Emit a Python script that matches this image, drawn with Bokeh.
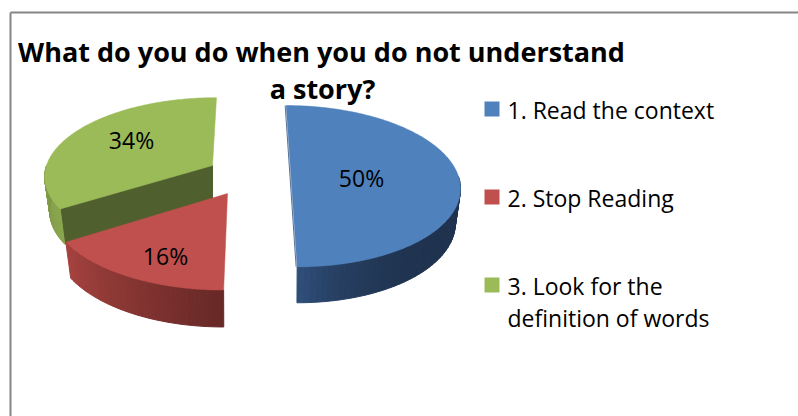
import numpy as np
from bokeh.embed import file_html
from bokeh.models import Range1d
from bokeh.plotting import figure
from bokeh.resources import INLINE
from bokeh.core.properties import value

# ---- data
categories = ["1. Read the context", "2. Stop Reading", "3. Look for the definition of words"]
shares = [50, 16, 34]
title_lines = ["What do you do when you do not understand", "a story?"]
legend_lines = [["1. Read the context"], ["2. Stop Reading"], ["3. Look for the", "definition of words"]]

# ---- colours: rim colour at the rim's clockwise start / end of the visible part
top_colors = ["#4f81bd", "#c0504d", "#9bbb59"]
rim_start = ["#1f324e", "#672826", "#8aa64e"]
rim_end = ["#2e4e78", "#a5423f", "#7d9746"]
rim_power = [5.0, 1.0, 1.0]
wall_color = "#4f5f2d"
frame_color = "#868686"
FONT = "Open Sans"

# ---- layout (page pixels)
W, H = 798, 416
K = 0.12  # perspective strength
geom = [
    dict(cx=290.5, cy=176, rx=167.5, ry=79.5, shear=0.068, depth=34),
    dict(cx=227, cy=193, rx=177, ry=85, shear=-0.04, depth=35),
    dict(cx=212, cy=165, rx=166, ry=76, shear=-0.059, depth=34),
]
label_pos = [(361, 177.5), (165, 255.5), (131, 139.5)]
legend_x, legend_text_x = 484, 507
legend_y = [108.5, 196.5, 284.5]
line_gap = 32
swatch = 15


def project(g, theta, down=0.0):
    X, Z = np.sin(theta), np.cos(theta)
    s = 1.0 / (1.0 + K * Z)
    shrink = 1.0 - 0.03 * (down > 0)
    dx, dy = g["rx"] * X * s * shrink, -g["ry"] * Z * s * shrink
    return g["cx"] + dx + g["shear"] * dy, g["cy"] + dy + down * s


def hex2rgb(h):
    return np.array([int(h[i:i + 2], 16) for i in (1, 3, 5)], float)


def mix(a, b, t):
    c = hex2rgb(a) * (1 - t) + hex2rgb(b) * t
    return "#%02x%02x%02x" % tuple(int(round(v)) for v in c)


p = figure(width=W, height=H, x_range=Range1d(0, W), y_range=Range1d(H, 0),
           output_backend="svg", toolbar_location=None, min_border=0, outline_line_color=None)
p.axis.visible = False
p.grid.visible = False

# frame, open towards the right and bottom of the page
p.segment([10, 10], [12, 12], [W, 10], [12, H], line_color=frame_color, line_width=2)

total = sum(shares)
edges = np.cumsum([0] + shares) / total * 2 * np.pi
spans = [(edges[i], edges[i + 1]) for i in range(len(shares))]

for i in (2, 1, 0):
    g = geom[i]
    a0, a1 = spans[i]
    if i == 2:
        # inner wall of the slice along its first edge
        cx, cy = g["cx"], g["cy"]
        ex, ey = project(g, a0)
        bx, by = project(g, a0, g["depth"])
        p.patch([cx, ex, bx, cx], [cy, ey, by, cy + g["depth"]], fill_color=wall_color, line_color=wall_color)
    # visible outer side: the part of the rim that faces the viewer
    s0, s1 = max(a0, np.pi / 2), min(a1, 3 * np.pi / 2)
    if s1 > s0:
        th = np.linspace(s0, s1, 50)
        xs, ys, cols = [], [], []
        for j in range(len(th) - 1):
            x0, y0 = project(g, th[j])
            x1, y1 = project(g, th[j + 1])
            x2, y2 = project(g, th[j + 1], g["depth"])
            x3, y3 = project(g, th[j], g["depth"])
            xs.append([x0, x1, x2, x3])
            ys.append([y0, y1, y2, y3])
            t = (j / (len(th) - 2)) ** rim_power[i]
            cols.append(mix(rim_start[i], rim_end[i], t))
        p.patches(xs, ys, fill_color=cols, line_color=cols)
    th = np.linspace(a0, a1, 160)
    px, py = project(g, th)
    px = np.concatenate([[g["cx"]], px])
    py = np.concatenate([[g["cy"]], py])
    p.patch(px, py, fill_color=top_colors[i], line_color=top_colors[i], line_width=0.5)
    if i == 0:
        tx, ty = project(g, np.array([a0, a1]))
        p.line(tx - 1, ty, line_color="#2e4e78", line_width=1, line_alpha=0.8)

# percentage labels
p.text([q[0] for q in label_pos], [q[1] for q in label_pos], text=[f"{v}%" for v in shares],
       text_font=value(FONT), text_font_size="23px", text_color="#000000",
       text_align="center", text_baseline="middle")

# title
p.text([321, 322], [51, 88], text=title_lines, text_font=value(FONT), text_font_size="27px",
       text_font_style="bold", text_color="#000000", text_align="center", text_baseline="middle")

# legend
p.rect([legend_x + swatch / 2] * 3, legend_y, width=swatch, height=swatch, fill_color=top_colors, line_color=None)
for y, lines in zip(legend_y, legend_lines):
    p.text([legend_text_x] * len(lines), [y + 0.5 + n * line_gap for n in range(len(lines))], text=lines,
           text_font=value(FONT), text_font_size="23px", text_color="#000000",
           text_align="left", text_baseline="middle")

open("out.html", "w").write(file_html(p, INLINE))
